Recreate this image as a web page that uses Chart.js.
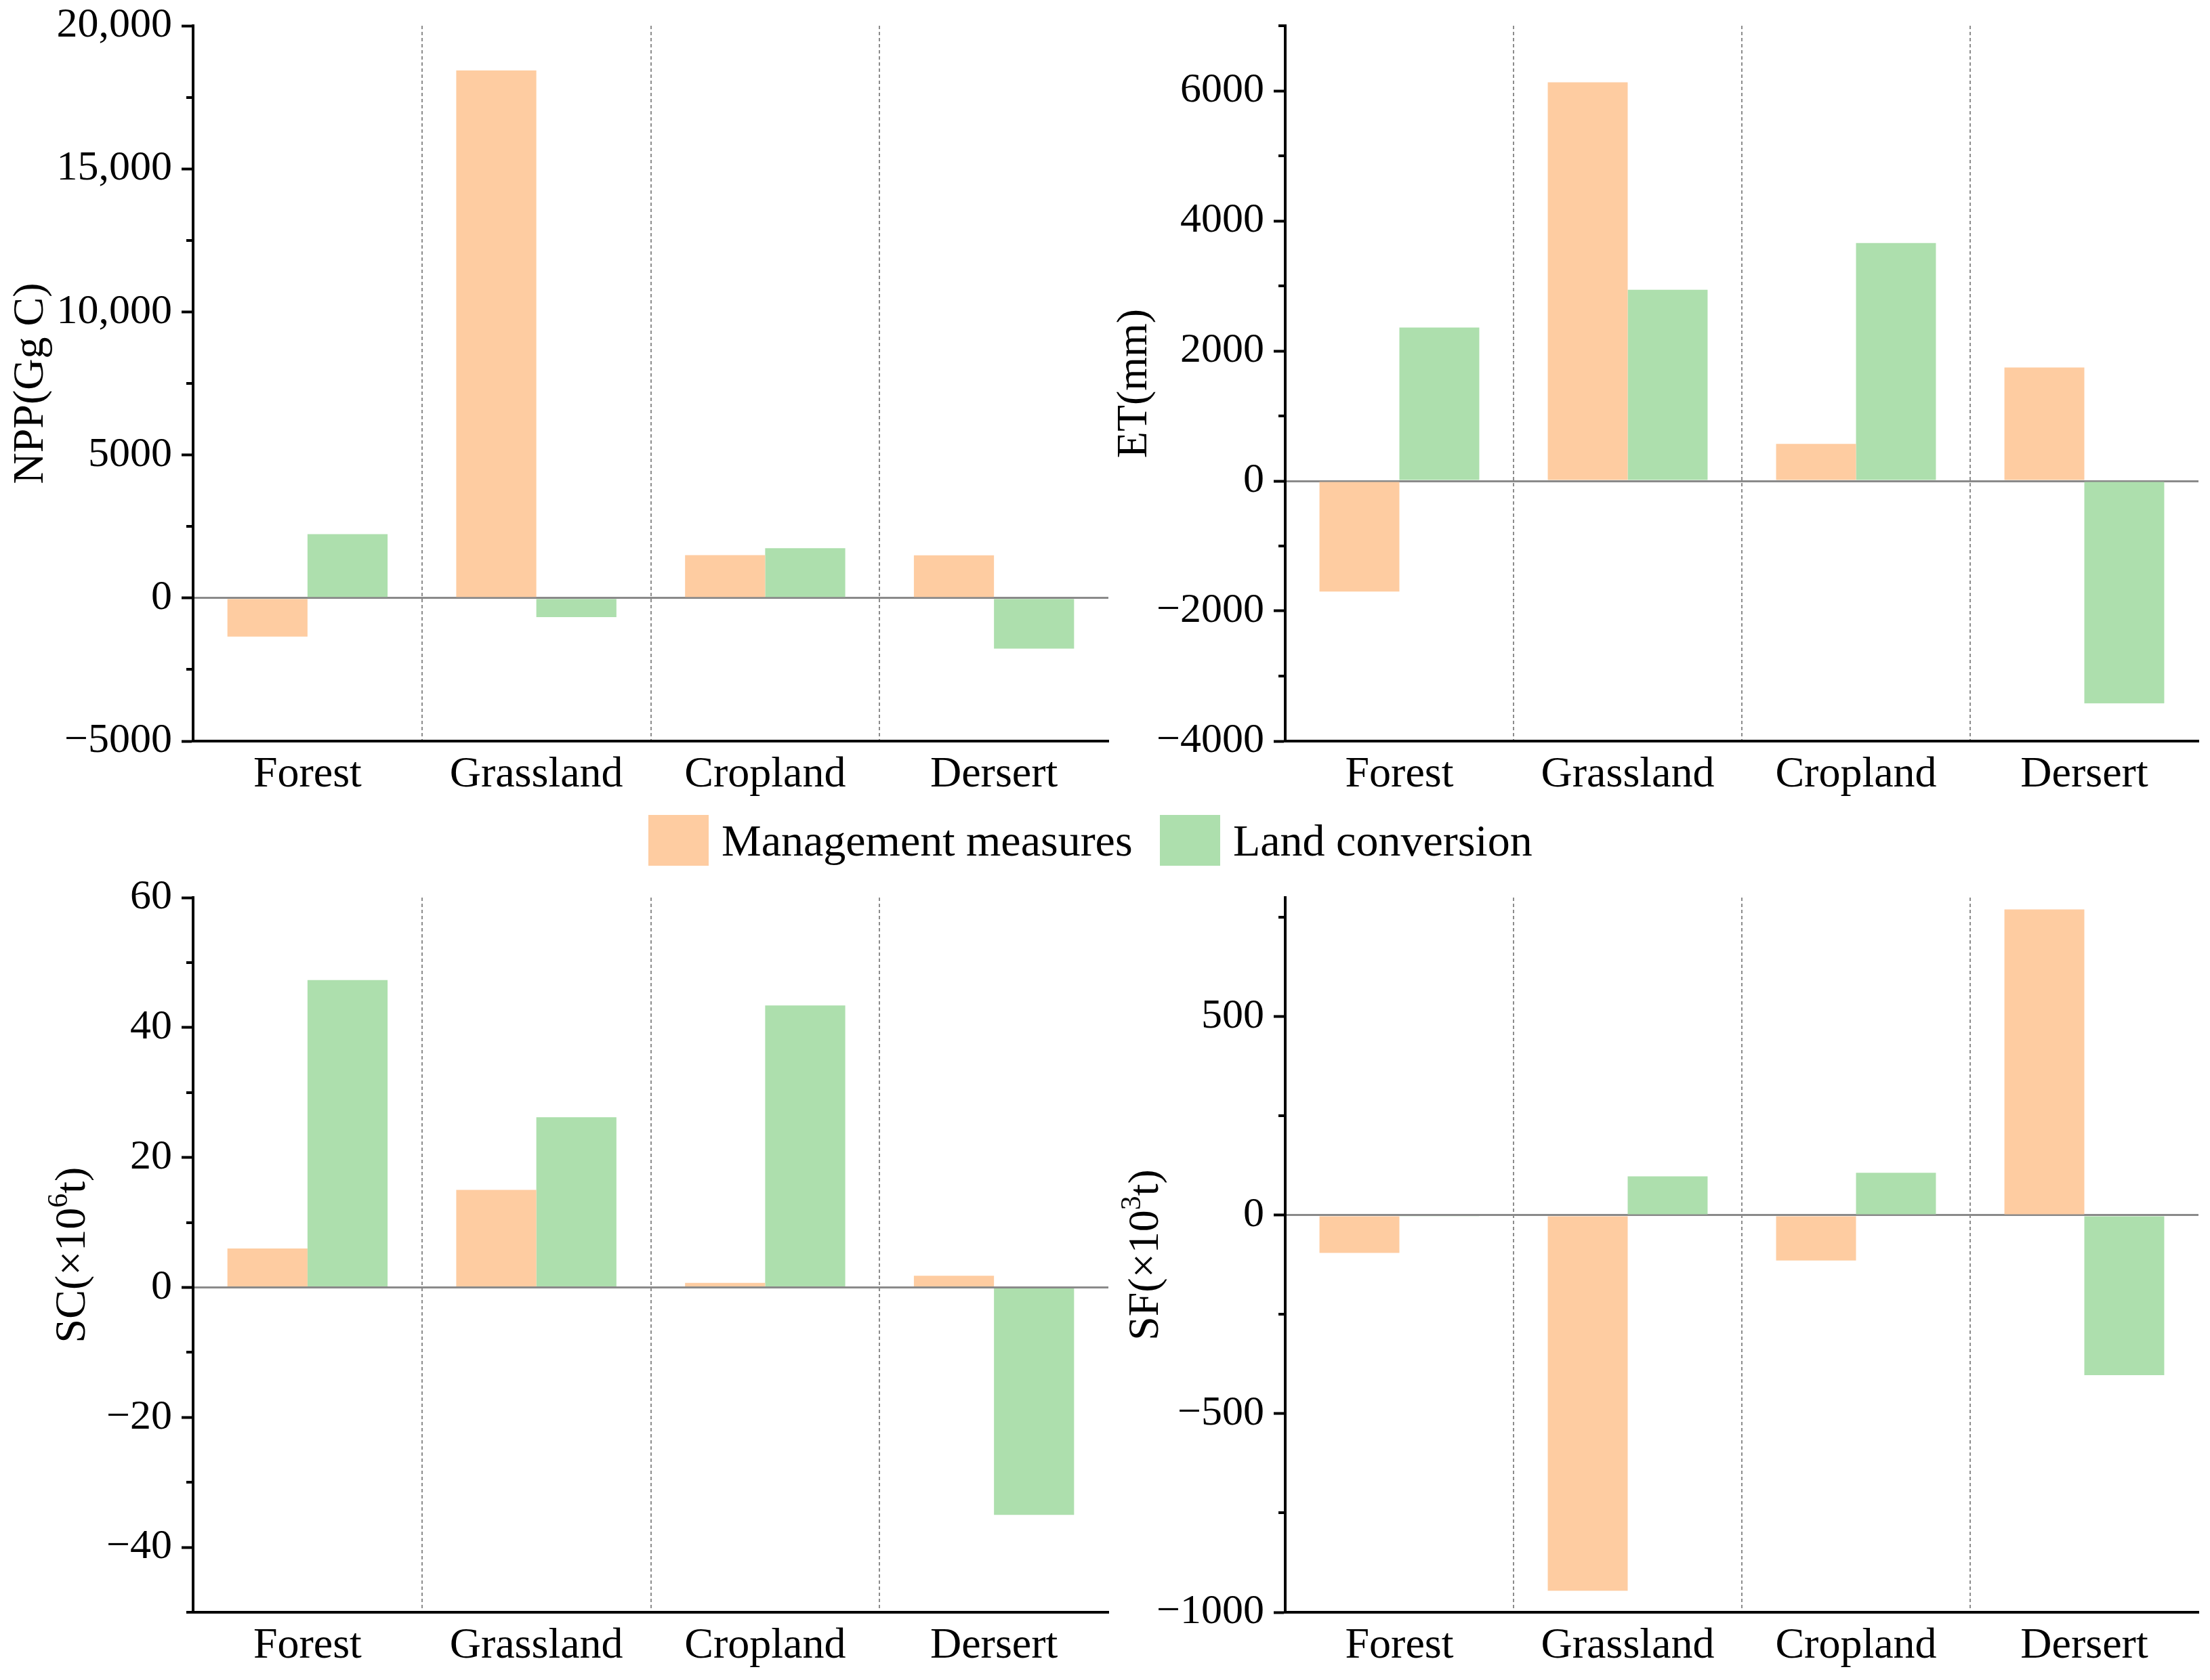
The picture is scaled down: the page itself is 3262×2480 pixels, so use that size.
<!DOCTYPE html>
<html>
<head>
<meta charset="utf-8">
<script src="https://cdn.jsdelivr.net/npm/chart.js@4.4.1/dist/chart.umd.min.js"></script>
<style>
  html, body { margin: 0; padding: 0; background: #fff; }
  body { width: 3262px; height: 2480px; position: relative; overflow: hidden; font-family: "Liberation Serif", serif; }
  canvas { position: absolute; }
  .legend-box { position: absolute; width: 89px; height: 75px; }
  .legend-text { position: absolute; font-size: 66px; line-height: 66px; color: #000; white-space: nowrap; }
</style>
</head>
<body>
<canvas id="npp" width="1650" height="1190" style="left:0px;top:0px;width:1650px;height:1190px"></canvas>
<canvas id="et" width="1622" height="1190" style="left:1640px;top:0px;width:1622px;height:1190px"></canvas>
<canvas id="sc" width="1650" height="1190" style="left:0px;top:1290px;width:1650px;height:1190px"></canvas>
<canvas id="sf" width="1622" height="1190" style="left:1640px;top:1290px;width:1622px;height:1190px"></canvas>

<div class="legend-box" id="box0" style="left:957px;top:1203px"></div>
<div class="legend-text" id="txt0" style="left:1065px;top:1208px"></div>
<div class="legend-box" id="box1" style="left:1712px;top:1203px"></div>
<div class="legend-text" id="txt1" style="left:1820px;top:1208px"></div>

<script>
// categories and series
const categories = ['Forest', 'Grassland', 'Cropland', 'Dersert'];
const seriesNames = ['Management measures', 'Land conversion'];
const seriesColors = ['rgb(254,204,161)', 'rgb(173,223,173)'];

// values
const nppManagement = [-1350, 18440, 1500, 1490];
const nppConversion = [2230, -670, 1740, -1770];
const etManagement = [-1700, 6130, 570, 1745];
const etConversion = [2360, 2940, 3660, -3420];
const scManagement = [6.0, 15.0, 0.7, 1.8];
const scConversion = [47.3, 26.2, 43.4, -35.0];
const sfManagement = [-95, -946, -114, 770];
const sfConversion = [-3, 98, 107, -403];

// labelled (major) ticks
const nppTickValues = [-5000, 0, 5000, 10000, 15000, 20000];
const nppTickLabels = ['\u22125000', '0', '5000', '10,000', '15,000', '20,000'];
const etTickValues = [-4000, -2000, 0, 2000, 4000, 6000];
const etTickLabels = ['\u22124000', '\u22122000', '0', '2000', '4000', '6000'];
const scTickValues = [-40, -20, 0, 20, 40, 60];
const scTickLabels = ['\u221240', '\u221220', '0', '20', '40', '60'];
const sfTickValues = [-1000, -500, 0, 500];
const sfTickLabels = ['\u22121000', '\u2212500', '0', '500'];

const FONT = '"Liberation Serif", "Times New Roman", serif';
const CLEAR = 'rgba(0,0,0,0)';

// short ticks between the labelled ones
const minorTicks = {
  id: 'minorTicks',
  afterDraw(chart, args, opts) {
    const y = chart.scales.y;
    const ctx = chart.ctx;
    const x0 = chart.chartArea.left;
    ctx.save();
    ctx.strokeStyle = '#000';
    ctx.lineWidth = 4;
    y.ticks.forEach(t => {
      if (opts.major.includes(t.value)) return;
      const py = Math.round(y.getPixelForValue(t.value));
      ctx.beginPath();
      ctx.moveTo(x0 - 10, py);
      ctx.lineTo(x0, py);
      ctx.stroke();
    });
    ctx.restore();
  }
};

// rotated y title with a real superscript (e.g. ×10^6 t)
const supTitle = {
  id: 'supTitle',
  afterDraw(chart, args, opts) {
    if (!opts.parts) return;
    const [a, sup, b] = opts.parts;
    const ctx = chart.ctx;
    const area = chart.chartArea;
    const cx = chart.scales.y.left + opts.center;
    const cy = (area.top + area.bottom) / 2;
    ctx.save();
    ctx.translate(cx, cy);
    ctx.rotate(-Math.PI / 2);
    ctx.fillStyle = '#000';
    ctx.textAlign = 'left';
    ctx.textBaseline = 'middle';
    const big = '64px ' + FONT;
    const small = '42px ' + FONT;
    ctx.font = big;
    const wa = ctx.measureText(a).width;
    const wb = ctx.measureText(b).width;
    ctx.font = small;
    const ws = ctx.measureText(sup).width;
    let x = -(wa + ws + wb) / 2;
    ctx.font = big;
    ctx.fillText(a, x, 0);
    x += wa;
    ctx.font = small;
    ctx.fillText(sup, x, -20);
    x += ws;
    ctx.font = big;
    ctx.fillText(b, x, 0);
    ctx.restore();
  }
};

function makePanel(id, opt) {
  new Chart(document.getElementById(id), {
    type: 'bar',
    data: {
      labels: categories,
      datasets: [
        { label: seriesNames[0], data: opt.management, backgroundColor: seriesColors[0], borderWidth: 0 },
        { label: seriesNames[1], data: opt.conversion, backgroundColor: seriesColors[1], borderWidth: 0 }
      ]
    },
    options: {
      responsive: false,
      animation: false,
      devicePixelRatio: 1,
      layout: { padding: opt.padding },
      datasets: { bar: { categoryPercentage: 0.7, barPercentage: 1.0 } },
      plugins: {
        legend: { display: false },
        tooltip: { enabled: false },
        minorTicks: { major: opt.tickValues },
        supTitle: { parts: opt.titleParts || null, center: 32 + opt.titlePad }
      },
      scales: {
        x: {
          grid: {
            offset: true,
            drawTicks: false,
            lineWidth: 2,
            color: c => (c.index >= 1 && c.index < categories.length) ? '#8c8c8c' : CLEAR
          },
          border: { color: '#000', width: 4, dash: [5, 4] },
          ticks: { color: '#000', font: { family: FONT, size: 64, lineHeight: 1 }, padding: 18, maxRotation: 0 },
          afterFit: s => {
            s.height = opt.xHeight;
            s.paddingLeft = 0;
            s.paddingRight = 0;
          }
        },
        y: {
          min: opt.min,
          max: opt.max,
          z: 1,
          grid: {
            drawOnChartArea: true,
            lineWidth: 3,
            color: c => (c.tick && c.tick.value === 0) ? '#8a8a8a' : CLEAR,
            tickLength: 17,
            tickWidth: 4,
            tickColor: c => (c.tick && opt.tickValues.includes(c.tick.value)) ? '#000' : CLEAR
          },
          border: { color: '#000', width: 4 },
          ticks: {
            autoSkip: false,
            color: '#000',
            padding: 14,
            font: { family: FONT, size: 62, lineHeight: 1 },
            callback: v => {
              const i = opt.tickValues.indexOf(v);
              return i >= 0 ? opt.tickLabels[i] : '';
            }
          },
          // every minor step from min to max, labelled ones included
          afterBuildTicks: s => {
            const list = [];
            const n = Math.round((opt.max - opt.min) / opt.step);
            for (let k = 0; k <= n; k++) {
              const v = opt.min + k * opt.step;
              if (v <= opt.max) list.push({ value: v });
            }
            s.ticks = list;
          },
          title: {
            display: !opt.titleParts,
            text: opt.title || '',
            color: '#000',
            font: { family: FONT, size: 64, lineHeight: 1 },
            padding: { top: opt.titlePad, bottom: 0 }
          },
          afterFit: s => {
            s.width = opt.yWidth;
            s.paddingTop = 0;
            s.paddingBottom = 0;
          }
        }
      }
    },
    plugins: [minorTicks, supTitle]
  });
}

function drawAll() {
  makePanel('npp', {
    management: nppManagement, conversion: nppConversion,
    min: -5000, max: 20000, step: 2500,
    tickValues: nppTickValues, tickLabels: nppTickLabels,
    title: 'NPP(Gg C)', titlePad: 14,
    padding: { left: 0, top: 38, right: 14, bottom: 0 }, yWidth: 285, xHeight: 96
  });

  makePanel('et', {
    management: etManagement, conversion: etConversion,
    min: -4000, max: 7000, step: 1000,
    tickValues: etTickValues, tickLabels: etTickLabels,
    title: 'ET(mm)', titlePad: 3,
    padding: { left: 0, top: 38, right: 17, bottom: 0 }, yWidth: 257, xHeight: 96
  });

  makePanel('sc', {
    management: scManagement, conversion: scConversion,
    min: -50, max: 60, step: 10,
    tickValues: scTickValues, tickLabels: scTickLabels,
    titleParts: ['SC(\u00d710', '6', 't)'], titlePad: 76,
    padding: { left: 0, top: 35, right: 14, bottom: 0 }, yWidth: 285, xHeight: 100
  });

  makePanel('sf', {
    management: sfManagement, conversion: sfConversion,
    min: -1000, max: 800, step: 250,
    tickValues: sfTickValues, tickLabels: sfTickLabels,
    titleParts: ['SF(\u00d710', '3', 't)'], titlePad: 20,
    padding: { left: 0, top: 35, right: 17, bottom: 0 }, yWidth: 257, xHeight: 100
  });

  // shared legend between the rows
  seriesNames.forEach((name, i) => {
    document.getElementById('box' + i).style.background = seriesColors[i];
    document.getElementById('txt' + i).textContent = name;
  });
}

document.fonts.load('64px "Liberation Serif"').then(drawAll, drawAll);
</script>
</body>
</html>
